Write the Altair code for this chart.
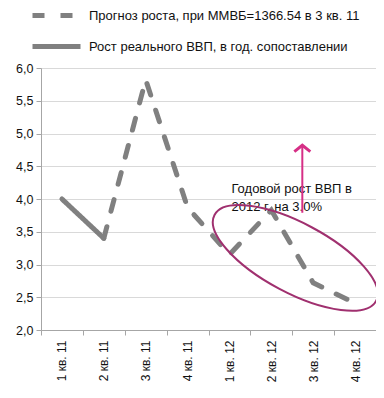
import altair as alt
import pandas as pd

quarters = ["1 кв. 11", "2 кв. 11", "3 кв. 11", "4 кв. 11",
            "1 кв. 12", "2 кв. 12", "3 кв. 12", "4 кв. 12"]
actual = [4.0, 3.4, None, None, None, None, None, None]
forecast = [None, 3.4, 5.82, 3.87, 3.15, 3.83, 2.72, 2.41]
series_names = ["Прогноз роста, при ММВБ=1366.54 в 3 кв. 11",
                "Рост реального ВВП, в год. сопоставлении"]
y_ticks = [2.0, 2.5, 3.0, 3.5, 4.0, 4.5, 5.0, 5.5, 6.0]

note_lines = ["Годовой рост ВВП в", "2012 г. на 3.0%"]
note_anchor = ["1 кв. 12", 4.24]
ellipse_center = ["2 кв. 12", 3.1]
arrow_quarter = "2 кв. 12"
arrow_from = 3.79
arrow_to = 4.82

FONT = "Liberation Sans"
GRAY = "#808080"

rows = []
for q, v in zip(quarters, forecast):
    if v is not None:
        rows.append({"q": q, "v": v, "s": series_names[0]})
for q, v in zip(quarters, actual):
    if v is not None:
        rows.append({"q": q, "v": v, "s": series_names[1]})
df = pd.DataFrame(rows)

x_scale = alt.Scale(type="band", domain=quarters, paddingInner=0, paddingOuter=0)
y_scale = alt.Scale(domain=[2, 6], nice=False)

x_axis = alt.Axis(title=None, labelAngle=270, labelAlign="right", labelBaseline="middle",
                  tickBand="extent", tickSize=5, domainColor="#a6a6a6", tickColor="#a6a6a6",
                  labelFontSize=12, labelColor="#111111", labelFont=FONT, labelPadding=5,
                  grid=False)
y_axis = alt.Axis(title=None, values=y_ticks,
                  labelExpr="replace(format(datum.value, '.1f'), '.', ',')",
                  grid=True, gridColor="#d9d9d9", domainColor="#a6a6a6", tickColor="#a6a6a6",
                  tickSize=5, labelFontSize=12.5, labelColor="#111111", labelFont=FONT,
                  labelPadding=3, labelOverlap=False)


def xenc():
    return alt.X("q:N", scale=x_scale, axis=x_axis, bandPosition=0.5, sort=quarters)


def yenc():
    return alt.Y("v:Q", scale=y_scale, axis=y_axis)


lines = alt.Chart(df).mark_line(color=GRAY, strokeWidth=5, strokeCap="round").encode(
    x=xenc(),
    y=yenc(),
    strokeDash=alt.StrokeDash(
        "s:N",
        scale=alt.Scale(domain=series_names, range=[[12, 16], [1, 0]]),
        legend=alt.Legend(title=None, orient="none", legendX=1, legendY=-67,
                          symbolType="M -2 0 L 2 0", symbolSize=576, symbolStrokeWidth=5,
                          symbolStrokeColor=GRAY, labelFontSize=13, labelFont=FONT,
                          labelColor="#111111", labelOffset=18, rowPadding=6,
                          labelLimit=400),
    ),
)

ell_df = pd.DataFrame({"q": [ellipse_center[0]], "v": [ellipse_center[1]]})
ellipse_path = ("M -1 0 C -1 -0.2099 -0.5523 -0.38 0 -0.38 "
                "C 0.5523 -0.38 1 -0.2099 1 0 "
                "C 1 0.2099 0.5523 0.38 0 0.38 "
                "C -0.5523 0.38 -1 0.2099 -1 0 Z")
ellipse = alt.Chart(ell_df).mark_point(
    shape=ellipse_path, filled=False, size=33500, angle=28, strokeWidth=2,
    color="#a0306f", xOffset=24, opacity=1
).encode(x=xenc(), y=yenc())

arr_df = pd.DataFrame({"q": [arrow_quarter], "v": [arrow_from], "v2": [arrow_to]})
arrow_line = alt.Chart(arr_df).mark_rule(color="#d62f86", strokeWidth=2, xOffset=31).encode(
    x=xenc(), y=yenc(), y2="v2:Q",
)
head_df = pd.DataFrame({"q": [arrow_quarter], "v": [arrow_to]})
arrow_head = alt.Chart(head_df).mark_point(
    shape="M -1 0.8 L 0 0 L 1 0.8", filled=False, size=256, strokeWidth=3,
    color="#d62f86", xOffset=31, opacity=1
).encode(x=xenc(), y=yenc())

note_df = pd.DataFrame({"q": [note_anchor[0]], "v": [note_anchor[1]]})
note = alt.Chart(note_df).mark_text(
    text=note_lines, align="left", baseline="top", xOffset=2, fontSize=13,
    lineHeight=18, font=FONT, color="#111111"
).encode(x=xenc(), y=yenc())

chart = alt.layer(lines, note, ellipse, arrow_line, arrow_head).properties(
    width=335, height=262,
    autosize=alt.AutoSizeParams(type="none"),
    padding={"left": 33, "top": 60, "right": 0, "bottom": 60},
).configure_view(stroke=None).configure(background="white")

chart.save("out.html", embed_options={"renderer": "svg", "actions": False})
